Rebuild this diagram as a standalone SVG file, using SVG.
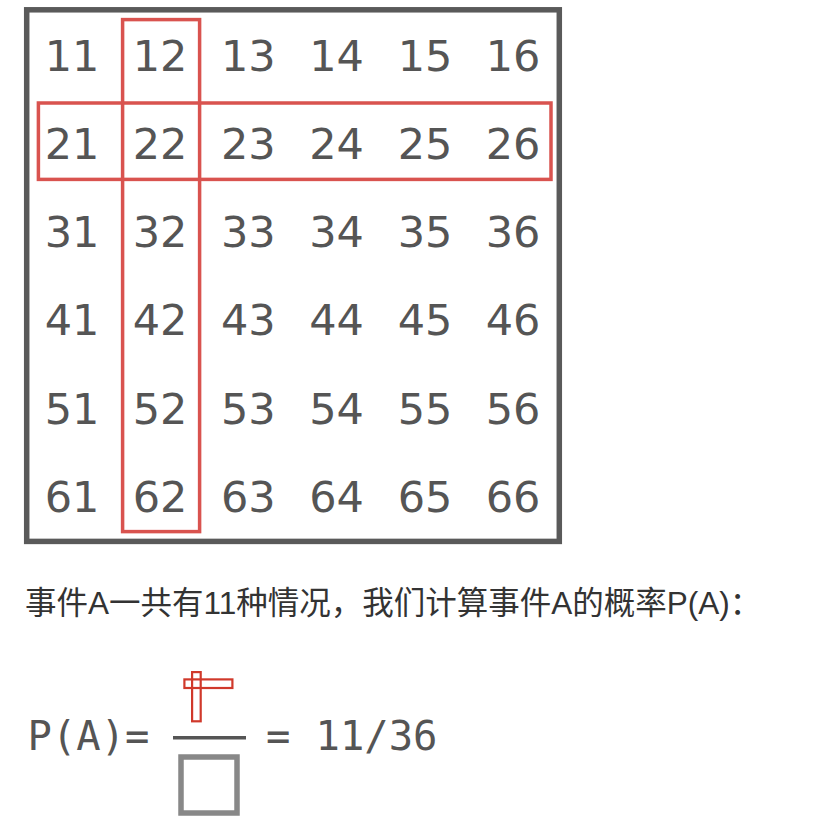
<svg xmlns="http://www.w3.org/2000/svg" width="834" height="832" viewBox="0 0 834 832">
<style>
.num{font-family:"DejaVu Sans",sans-serif;font-size:43px;fill:#555;text-anchor:middle}
.hl{fill:none;stroke:#d9534f;stroke-width:3.5}
.mono{font-family:"DejaVu Sans Mono",monospace;font-size:40.5px;fill:#555}
.cap{font-family:"Liberation Sans","Noto Sans CJK SC",sans-serif;font-size:31.5px;fill:#333}
</style>
<rect width="834" height="832" fill="#fff"/>
<g id="grid">
<rect x="26.7" y="9.8" width="532.6" height="531.6" fill="#fff" stroke="#5a5a5a" stroke-width="5.5"/>
<g id="numbers">
<text class="num" x="72" y="70.7">11</text><text class="num" x="160" y="70.7">12</text><text class="num" x="248.3" y="70.7">13</text><text class="num" x="336.6" y="70.7">14</text><text class="num" x="425" y="70.7">15</text><text class="num" x="513" y="70.7">16</text>
<text class="num" x="72" y="158.9">21</text><text class="num" x="160" y="158.9">22</text><text class="num" x="248.3" y="158.9">23</text><text class="num" x="336.6" y="158.9">24</text><text class="num" x="425" y="158.9">25</text><text class="num" x="513" y="158.9">26</text>
<text class="num" x="72" y="247.1">31</text><text class="num" x="160" y="247.1">32</text><text class="num" x="248.3" y="247.1">33</text><text class="num" x="336.6" y="247.1">34</text><text class="num" x="425" y="247.1">35</text><text class="num" x="513" y="247.1">36</text>
<text class="num" x="72" y="335.3">41</text><text class="num" x="160" y="335.3">42</text><text class="num" x="248.3" y="335.3">43</text><text class="num" x="336.6" y="335.3">44</text><text class="num" x="425" y="335.3">45</text><text class="num" x="513" y="335.3">46</text>
<text class="num" x="72" y="423.5">51</text><text class="num" x="160" y="423.5">52</text><text class="num" x="248.3" y="423.5">53</text><text class="num" x="336.6" y="423.5">54</text><text class="num" x="425" y="423.5">55</text><text class="num" x="513" y="423.5">56</text>
<text class="num" x="72" y="511.7">61</text><text class="num" x="160" y="511.7">62</text><text class="num" x="248.3" y="511.7">63</text><text class="num" x="336.6" y="511.7">64</text><text class="num" x="425" y="511.7">65</text><text class="num" x="513" y="511.7">66</text>
</g>
<g id="highlight">
<rect class="hl" x="122.6" y="19.6" width="77" height="512"/>
<rect class="hl" x="38.4" y="103" width="512.6" height="76.4"/>
</g>
</g>
<text id="caption" class="cap" x="25" y="614">事件A一共有11种情况，我们计算事件A的概率P(A)：</text>
<g id="formula">
<text class="mono" x="27.5" y="750">P(A)=</text>
<g id="numerator" fill="#fff" stroke="#d0392b" stroke-width="2.2">
<rect x="184.4" y="679.4" width="48" height="8.6"/>
<rect x="192.1" y="672.1" width="8.6" height="49.2" fill="none"/>
</g>
<line x1="173" y1="737.7" x2="246" y2="737.7" stroke="#555" stroke-width="3.5"/>
<rect id="denominator" x="181" y="757" width="56" height="56" fill="none" stroke="#888" stroke-width="5.5"/>
<text class="mono" x="266" y="750">=</text>
<text class="mono" x="315.5" y="750">11/36</text>
</g>
</svg>
